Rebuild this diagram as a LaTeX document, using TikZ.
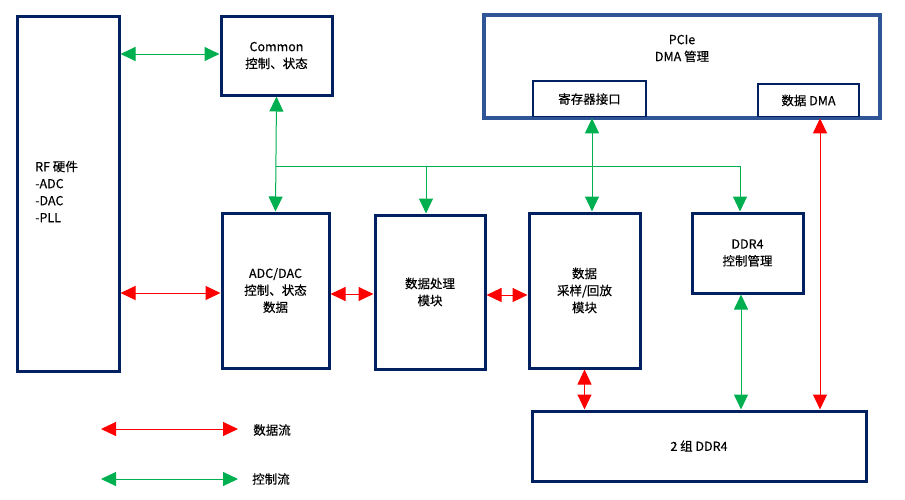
\documentclass[tikz,border=0pt]{standalone}
\usepackage{fontspec}
\setmainfont{Noto Sans CJK SC}[FakeBold=0.3]
\usetikzlibrary{arrows.meta,calc}
\definecolor{navy}{HTML}{002060}
\definecolor{pcieblue}{HTML}{2F5597}
\definecolor{gr}{HTML}{00B050}
\definecolor{rd}{HTML}{FF0000}
\tikzset{
  tip/.tip={Triangle[length=15pt,width=14pt]},
  txt/.style={font=\fontsize{12.5}{17}\selectfont, align=center, text=black},
  box/.style={txt, draw=navy, line width=3pt, fill=white, inner sep=0pt},
  sbox/.style={txt, draw=navy, line width=1.2pt, fill=white, inner sep=0pt},
  pbox/.style={draw=pcieblue, line width=2.6pt, inner sep=0pt},
  gline/.style={draw=gr, line width=1pt},
  rline/.style={draw=rd, line width=1pt},
  gboth/.style={gline, tip-tip},
  rboth/.style={rline, tip-tip},
  gone/.style={gline, -tip}
}
\begin{document}
\begin{tikzpicture}[x=1pt,y=1pt]
\useasboundingbox (0,0) rectangle (905,-499);
% boxes
\node[box, minimum width=102pt, minimum height=355pt] (rf) at (68,-193.5) {};
\node[txt, align=left, anchor=west, inner sep=0pt] (rftext) at (35,-191.5) {RF 硬件\\-ADC\\-DAC\\-PLL};
\node[box, minimum width=111pt, minimum height=79pt] (common) at (276.5,-55.5) {Common\\控制、状态};
\node[pbox, fill=white, minimum width=394pt, minimum height=101pt] (pcie) at (682,-66.5) {};
\node[txt] (pcietext) at (682,-48.5) {PCIe\\DMA 管理};
\node[sbox, minimum width=113pt, minimum height=36pt] (reg) at (589.5,-99) {寄存器接口};
\node[sbox, minimum width=101pt, minimum height=33pt] (dma) at (808.5,-100.5) {数据 DMA};
\draw[pbox] (pcie.south west) rectangle (pcie.north east);
\node[box, minimum width=107pt, minimum height=155pt] (adc) at (275.5,-290.5) {ADC/DAC\\控制、状态\\数据};
\node[box, minimum width=110pt, minimum height=154pt] (proc) at (430,-292) {数据处理\\模块};
\node[box, minimum width=111pt, minimum height=155pt] (samp) at (584.5,-290.5) {数据\\采样/回放\\模块};
\node[box, minimum width=111pt, minimum height=80pt] (ctrl) at (747.5,-253) {DDR4\\控制管理};
\node[box, minimum width=334pt, minimum height=70pt] (ddr) at (699,-446) {2 组 DDR4};
% helper coordinates
\coordinate (b1) at (276,-166);
\coordinate (b2) at (426,-166);
\coordinate (b3) at (592,-166);
\coordinate (b4) at (740,-166);
\coordinate (d1) at (820,-166);
\coordinate (g0) at (0,-54);
\coordinate (r1) at (0,-293);
\coordinate (r2) at (0,-294);
\coordinate (r3) at (0,-295);
% green control flow
\draw[gboth] (rf.east |- g0) -- (common.west |- g0);
\draw[gboth] (common.south) -- (adc.north);
\draw[gline] (b1) -- (b4);
\draw[gone] (b2) -- (b2 |- proc.north);
\draw[gboth] (b3 |- pcie.south) -- (b3 |- samp.north);
\draw[gone] (b4) -- (b4 |- ctrl.north);
\draw[gboth] ($(b4 |- ctrl.south)+(1,0)$) -- ($(b4 |- ddr.north)+(1,0)$);
% red data flow
\draw[rboth] (rf.east |- r1) -- (adc.west |- r1);
\draw[rboth] (adc.east |- r2) -- (proc.west |- r2);
\draw[rboth] (proc.east |- r3) -- (samp.west |- r3);
\draw[rboth] (samp.south) -- (samp.south |- ddr.north);
\draw[rboth] (d1 |- pcie.south) -- (d1 |- ddr.north);
% legend
\coordinate (la) at (101,-429);
\coordinate (lb) at (238,-429);
\coordinate (lc) at (101,-479);
\coordinate (ld) at (238,-479);
\draw[rboth] (la) -- (lb);
\draw[gboth] (lc) -- (ld);
\node[txt] (ldata) at (272,-430) {数据流};
\node[txt] (lctrl) at (271,-479) {控制流};
\end{tikzpicture}
\end{document}
